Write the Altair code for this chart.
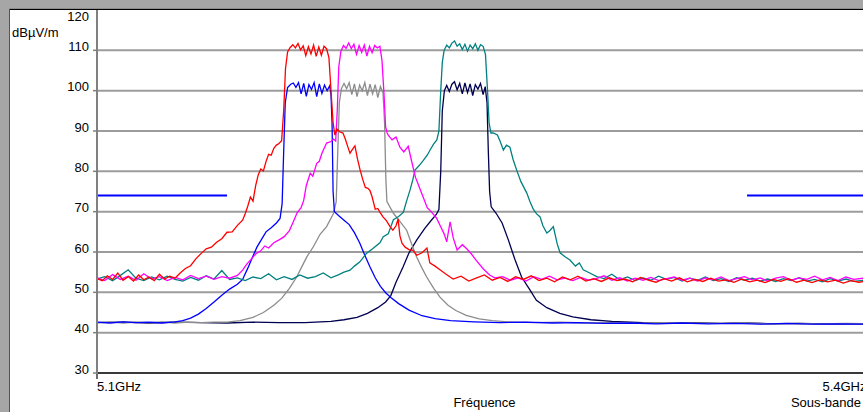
import altair as alt
import pandas as pd

# ---------------- data (frequency in MHz, level in dBµV/m) ----------------
red = [
    (5100, 53.4), (5102, 52.9), (5104, 54.1), (5106, 53.2), (5108, 54.8), (5110, 53.0), (5112, 53.9),
    (5114, 52.8), (5116, 54.3), (5118, 53.1), (5120, 53.8), (5122, 52.9), (5124, 54.5), (5126, 53.3),
    (5128, 54.0), (5130, 53.5), (5132, 54.8), (5134, 55.9), (5136, 56.6), (5138, 58.3), (5140, 59.6),
    (5142, 60.8), (5144, 61.2), (5146, 62.4), (5148, 63.3), (5150, 64.9), (5152, 65.0), (5154, 66.6),
    (5156, 67.9), (5157, 69.5), (5158, 71.4), (5159, 73.6), (5160, 72.6), (5161, 76.4), (5162, 79.1),
    (5163, 80.6), (5164, 80.1), (5165, 82.4), (5166, 84.2), (5167, 84.0), (5168, 85.7), (5169, 86.5),
    (5170, 86.9), (5171, 87.6), (5171.8, 95.0), (5172.5, 105.5), (5173.3, 109.6), (5174.3, 110.7),
    (5175.3, 111.4), (5176.3, 110.6), (5177.3, 111.7), (5178.3, 110.1), (5179.3, 111.1), (5180.3, 108.7),
    (5181.3, 110.9), (5182.3, 109.1), (5183.3, 111.3), (5184.3, 108.5), (5185.3, 110.8), (5186.3, 108.8),
    (5187.3, 111.0), (5188.3, 110.4), (5189.2, 108.2), (5190.0, 100.0), (5190.8, 92.0), (5191.5, 89.0),
    (5192.3, 90.5), (5193.3, 89.8), (5194.6, 89.5), (5195.5, 88.0), (5196.5, 86.0), (5197.3, 84.5),
    (5198.3, 85.5), (5199.2, 86.3), (5200.2, 83.0), (5201.2, 80.3), (5202.2, 78.0), (5203.2, 76.0),
    (5204.2, 75.8), (5205, 75.2), (5205.8, 73.7), (5207, 70.6), (5208, 70.8), (5208.8, 69.9), (5210, 68.7),
    (5211.3, 67.8), (5212.7, 66.3), (5213.8, 65.4), (5215, 66.5), (5215.8, 68.2), (5216.5, 64.0),
    (5217.3, 62.2), (5218.5, 61.2), (5220, 60.6), (5221.5, 60.4), (5223, 59.2), (5225, 59.8),
    (5226.9, 61.0), (5228, 57.3), (5230, 56.5), (5231.9, 55.6), (5234, 54.6), (5235.8, 53.8),
    (5237, 53.3), (5240, 54.0), (5243, 52.8), (5246, 53.6), (5249, 54.3), (5252, 53.0), (5255, 53.7),
    (5258, 52.7), (5261, 53.9), (5264, 53.2), (5267, 54.1), (5270, 52.9), (5273, 53.5), (5276, 52.6),
    (5279, 53.8), (5282, 53.1), (5285, 54.0), (5288, 52.8), (5291, 53.4), (5294, 52.7), (5297, 53.6),
    (5300, 52.9), (5303, 53.3), (5306, 52.6), (5309, 53.7), (5312, 53.0), (5315, 52.5), (5318, 53.4),
    (5321, 52.8), (5324, 53.6), (5327, 52.6), (5330, 53.2), (5333, 52.7), (5336, 53.5), (5339, 52.8),
    (5342, 53.1), (5345, 52.5), (5348, 53.3), (5351, 52.6), (5354, 53.0), (5357, 52.4), (5360, 53.2),
    (5363, 52.7), (5366, 53.4), (5369, 52.5), (5372, 53.0), (5375, 52.4), (5378, 53.1), (5381, 52.6),
    (5384, 53.0), (5387, 52.3), (5390, 52.9), (5393, 52.5), (5396, 52.8),
]

blue = [
    (5100, 42.6), (5105, 42.4), (5110, 42.7), (5115, 42.5), (5120, 42.6), (5125, 42.4), (5130, 42.7),
    (5133, 43.0), (5136, 43.6), (5139, 44.6), (5142, 46.0), (5145, 47.6), (5148, 49.3), (5151, 50.8),
    (5154, 52.0), (5156, 53.2), (5158, 56.0), (5160, 59.0), (5161.5, 61.2), (5163, 62.8), (5165, 65.0),
    (5167, 66.0), (5169, 67.2), (5170.4, 68.3), (5171.2, 72.0), (5171.8, 85.0), (5172.4, 97.0),
    (5173.3, 100.8), (5174.5, 101.6), (5175.5, 101.9), (5176.5, 100.8), (5177.5, 102.0), (5178.5, 99.2),
    (5179.5, 101.8), (5180.5, 98.6), (5181.5, 101.5), (5182.5, 100.3), (5183.5, 102.0), (5184.5, 98.5),
    (5185.5, 101.7), (5186.5, 99.3), (5187.5, 101.4), (5188.5, 100.0), (5189.5, 101.2), (5190.0, 99.0),
    (5190.4, 92.0), (5190.8, 75.0), (5191.3, 70.0), (5193, 69.0), (5195, 67.9), (5197, 66.8),
    (5199, 64.8), (5201, 62.3), (5203, 59.2), (5205, 56.3), (5207, 53.6), (5209, 51.5), (5211, 49.9),
    (5213, 48.7), (5216, 47.2), (5220, 45.6), (5225, 44.2), (5230, 43.5), (5236, 43.0), (5245, 42.7),
    (5255, 42.5), (5265, 42.6), (5275, 42.4), (5285, 42.5), (5295, 42.3), (5305, 42.4), (5315, 42.2),
    (5325, 42.4), (5335, 42.2), (5345, 42.3), (5355, 42.1), (5365, 42.3), (5375, 42.1), (5385, 42.2),
    (5396, 42.1),
]

magenta = [
    (5100, 53.6), (5103, 52.9), (5106, 54.4), (5109, 53.2), (5112, 54.0), (5115, 53.0), (5118, 54.6),
    (5121, 53.3), (5124, 53.9), (5127, 52.9), (5130, 53.7), (5133, 53.1), (5136, 54.2), (5139, 53.4),
    (5142, 54.0), (5145, 53.2), (5148, 53.9), (5151, 53.5), (5154, 54.2), (5156, 55.5), (5157.6, 57.0),
    (5159, 58.0), (5161, 59.5), (5163, 60.3), (5164.5, 61.5), (5166, 61.0), (5168, 62.3), (5170, 63.0),
    (5172, 63.8), (5174, 65.3), (5175.5, 67.5), (5177, 69.8), (5178.5, 71.0), (5179.5, 72.8),
    (5180.5, 76.5), (5182, 79.5), (5183, 78.8), (5184.5, 82.0), (5185.5, 82.5), (5186.5, 84.5),
    (5188.3, 87.0), (5190, 87.4), (5191, 88.0), (5191.8, 87.5), (5192.4, 95.0), (5193, 106.0),
    (5193.8, 109.8), (5194.8, 111.2), (5195.8, 110.5), (5196.8, 111.8), (5197.8, 110.4), (5198.8, 111.5),
    (5199.8, 109.0), (5200.8, 111.2), (5201.8, 109.5), (5202.8, 111.3), (5203.8, 108.6), (5204.8, 111.0),
    (5205.8, 109.4), (5206.8, 111.2), (5207.8, 110.6), (5208.8, 111.0), (5209.6, 107.5), (5210.4, 99.0),
    (5211, 91.0), (5211.6, 89.5), (5212, 89.0), (5213.5, 87.8), (5215, 88.5), (5216.5, 86.0),
    (5218, 84.8), (5219.7, 86.2), (5221, 82.5), (5222.5, 78.5), (5224, 76.0), (5225.5, 73.5),
    (5227, 71.0), (5228.5, 70.0), (5230.5, 68.5), (5232, 66.5), (5233.5, 64.5), (5234.5, 62.5),
    (5235.8, 67.5), (5237, 63.5), (5238.5, 60.5), (5240.5, 61.8), (5242.2, 60.8), (5244, 59.5),
    (5246, 57.8), (5248.6, 55.8), (5251, 54.3), (5253, 53.6), (5256, 53.9), (5259, 53.0), (5262, 53.6),
    (5265, 52.8), (5268, 53.9), (5271, 53.2), (5274, 54.0), (5277, 53.1), (5280, 53.5), (5283, 52.9),
    (5286, 53.7), (5289, 53.0), (5292, 53.4), (5295, 54.1), (5298, 53.0), (5301, 53.6), (5304, 52.8),
    (5307, 53.5), (5310, 53.0), (5313, 53.7), (5316, 52.9), (5319, 53.4), (5322, 53.8), (5325, 53.0),
    (5328, 53.5), (5331, 52.8), (5334, 53.6), (5337, 53.1), (5340, 53.8), (5343, 52.9), (5346, 53.4),
    (5349, 53.9), (5352, 53.1), (5355, 53.6), (5358, 52.8), (5361, 53.5), (5364, 53.9), (5367, 53.0),
    (5370, 53.6), (5373, 53.2), (5376, 54.0), (5379, 53.1), (5382, 53.7), (5385, 52.9), (5388, 53.8),
    (5391, 53.2), (5396, 53.6),
]

gray = [
    (5100, 42.5), (5105, 42.7), (5110, 42.4), (5115, 42.6), (5120, 42.5), (5125, 42.7), (5130, 42.4),
    (5135, 42.6), (5140, 42.5), (5145, 42.6), (5150, 42.6), (5155, 43.0), (5160, 43.8), (5164, 45.0),
    (5168, 46.8), (5171, 48.5), (5174, 51.0), (5176.8, 53.8), (5178.5, 56.0), (5180.7, 58.8),
    (5183.2, 61.3), (5185.8, 64.4), (5188.3, 66.3), (5190.9, 69.5), (5192, 72.5), (5192.6, 85.0),
    (5193.2, 97.0), (5194, 100.5), (5195, 101.8), (5196, 100.5), (5197, 102.0), (5198, 99.0),
    (5199, 101.7), (5200, 98.5), (5201, 101.4), (5202, 100.0), (5203, 102.0), (5204, 98.8),
    (5205, 101.6), (5206, 99.2), (5207, 101.5), (5208, 98.3), (5209, 101.0), (5210, 99.5),
    (5210.6, 92.0), (5211.1, 78.0), (5211.5, 72.5), (5214, 69.6), (5216.5, 67.6), (5219.1, 65.4),
    (5221, 62.0), (5222.9, 58.8), (5225, 56.0), (5226.8, 53.8), (5229.5, 51.0), (5231.9, 48.8),
    (5235, 46.8), (5238, 45.5), (5242, 44.3), (5247, 43.4), (5252, 43.0), (5258, 42.7), (5268, 42.5),
    (5278, 42.6), (5288, 42.4), (5298, 42.5), (5308, 42.3), (5318, 42.5), (5328, 42.4), (5338, 42.3),
    (5348, 42.4), (5358, 42.2), (5368, 42.3), (5378, 42.2), (5388, 42.3), (5396, 42.2),
]

teal = [
    (5100, 53.3), (5103, 53.9), (5106, 52.9), (5109, 54.2), (5112, 55.6), (5115, 53.5), (5118, 52.9),
    (5121, 53.8), (5124, 53.1), (5127, 54.0), (5130, 53.2), (5133, 52.8), (5136, 53.7), (5139, 53.0),
    (5142, 54.1), (5145, 53.3), (5148, 55.4), (5151, 53.2), (5154, 53.6), (5157, 52.9), (5160, 53.8),
    (5163, 53.4), (5166, 54.6), (5169, 53.1), (5172, 53.9), (5175, 53.2), (5178, 54.3), (5181, 53.5),
    (5184, 53.9), (5187, 54.8), (5190, 53.6), (5193, 54.4), (5195, 55.0), (5197.3, 55.5), (5199, 56.5),
    (5201, 57.5), (5203.7, 59.7), (5206, 60.8), (5208.8, 62.3), (5210.1, 63.8), (5212, 64.5),
    (5214, 68.0), (5216, 68.8), (5217.8, 69.8), (5219, 72.5), (5220.4, 75.4), (5221.5, 78.0),
    (5222.3, 80.3), (5224, 81.5), (5225.5, 82.7), (5227, 84.0), (5228.1, 85.3), (5229.5, 86.8),
    (5230.7, 87.8), (5231.5, 90.0), (5232.2, 100.0), (5232.8, 107.0), (5233.5, 110.0), (5234.5, 111.3),
    (5235.5, 110.6), (5236.5, 111.8), (5237.5, 112.3), (5238.5, 111.0), (5239.5, 111.6), (5240.5, 110.2),
    (5241.5, 111.5), (5242.5, 109.8), (5243.5, 111.3), (5244.5, 110.4), (5245.5, 111.6), (5246.5, 110.0),
    (5247.5, 111.4), (5248.5, 111.0), (5249.4, 109.0), (5250.2, 100.0), (5250.8, 92.0), (5251.5, 89.5),
    (5252.4, 89.5), (5254, 89.0), (5255, 87.5), (5256.3, 85.3), (5257.5, 86.5), (5258.8, 86.0),
    (5260, 83.0), (5261.4, 80.3), (5263, 77.5), (5265.3, 74.6), (5266.5, 72.5), (5267.8, 70.6),
    (5269, 69.5), (5270.4, 68.7), (5271.5, 66.5), (5273, 64.7), (5274, 65.2), (5275.5, 66.3),
    (5277, 62.0), (5278.1, 59.8), (5280, 58.8), (5281.9, 58.0), (5284, 56.5), (5285.5, 57.3),
    (5287, 55.6), (5289.5, 54.8), (5292.2, 53.9), (5295, 53.4), (5298, 54.5), (5301, 53.1), (5304, 53.8),
    (5307, 52.9), (5310, 53.6), (5313, 53.0), (5316, 54.0), (5319, 53.2), (5322, 53.7), (5325, 52.8),
    (5328, 53.5), (5331, 53.0), (5334, 53.8), (5337, 52.9), (5340, 53.4), (5343, 52.7), (5346, 53.6),
    (5349, 53.0), (5352, 53.5), (5355, 52.8), (5358, 53.3), (5361, 52.7), (5364, 53.4), (5367, 52.9),
    (5370, 53.6), (5373, 52.8), (5376, 53.2), (5379, 52.6), (5382, 53.4), (5385, 52.8), (5388, 53.3),
    (5391, 52.7), (5396, 53.1),
]

navy = [
    (5100, 42.5), (5110, 42.6), (5120, 42.4), (5130, 42.6), (5140, 42.5), (5150, 42.4), (5160, 42.6),
    (5170, 42.5), (5180, 42.5), (5190, 42.8), (5195, 43.2), (5200, 43.8), (5204, 44.8), (5208, 46.2),
    (5211, 47.6), (5213, 49.2), (5215, 52.5), (5217.7, 56.3), (5220, 59.8), (5223, 63.0), (5226, 65.8),
    (5228.5, 67.8), (5230.5, 69.3), (5231.5, 70.5), (5232.2, 80.0), (5232.8, 95.0), (5233.6, 100.0),
    (5234.5, 101.3), (5235.5, 99.8), (5236.5, 101.6), (5237.5, 102.2), (5238.5, 100.2), (5239.5, 101.8),
    (5240.5, 99.2), (5241.5, 101.9), (5242.5, 99.5), (5243.5, 101.7), (5244.5, 98.8), (5245.5, 101.5),
    (5246.5, 100.4), (5247.5, 101.8), (5248.5, 99.0), (5249.3, 101.0), (5250, 97.0), (5250.5, 85.0),
    (5251, 75.0), (5251.6, 71.2), (5253.5, 69.6), (5255.8, 67.2), (5258.2, 63.0), (5260.8, 58.0),
    (5263.3, 53.8), (5266.5, 50.6), (5269, 48.0), (5273, 46.2), (5278, 44.8), (5283, 43.9), (5290, 43.2),
    (5298, 42.8), (5310, 42.5), (5320, 42.4), (5330, 42.5), (5340, 42.3), (5350, 42.4), (5360, 42.2),
    (5370, 42.3), (5380, 42.2), (5396, 42.2),
]

limit_left = [(5100, 74), (5150, 74)]
limit_right = [(5350, 74), (5400, 74)]

grid_levels = [40, 50, 60, 70, 80, 90, 100, 110]
tick_levels = [30, 40, 50, 60, 70, 80, 90, 100, 110]
y_label_values = [30, 40, 50, 60, 70, 80, 90, 100, 110]
y_top_label = [120]
x_tick_values = [5100]
unit_label = "dBµV/m"
x_label_left = "5.1GHz"
x_label_right = "5.4GHz"
x_title = "Fréquence"
x_note = "Sous-bande"

# ---------------- chart ----------------
FONT = "Liberation Sans"
W, H = 766, 363
xs = alt.Scale(domain=[5100, 5394.6], nice=False, zero=False)
ys = alt.Scale(domain=[30, 120], nice=False, zero=False)


def trace(points, color, width=1.3):
    df = pd.DataFrame(points, columns=["mhz", "db"])
    df["i"] = range(len(df))
    return alt.Chart(df).mark_line(color=color, strokeWidth=width, clip=True).encode(
        x=alt.X("mhz:Q", scale=xs, axis=None),
        y=alt.Y("db:Q", scale=ys, axis=None),
        order="i:Q",
    )


one = alt.Data(values=[{"k": 1}])


def box(x, x2, y, y2, color):
    return alt.Chart(one).mark_rect(color=color).encode(
        x=alt.value(x), x2=alt.value(x2), y=alt.value(y), y2=alt.value(y2)
    )


def label(text, x, y, align, size=13):
    return alt.Chart(alt.Data(values=[{"t": text}])).mark_text(
        align=align, baseline="middle", font=FONT, fontSize=size, color="black"
    ).encode(x=alt.value(x), y=alt.value(y), text="t:N")


grid = alt.Chart(pd.DataFrame({"g": grid_levels})).mark_rule(color="#9c9c9c", strokeWidth=2).encode(
    y=alt.Y("g:Q", scale=ys, axis=None)
)

# y axis line and ticks
y_domain = alt.Chart(one).mark_rule(color="#808080", strokeWidth=2).encode(
    x=alt.value(0), y=alt.value(0), y2=alt.value(H + 1)
)
y_ticks = alt.Chart(pd.DataFrame({"v": tick_levels})).mark_rule(color="#808080", strokeWidth=1.5).encode(
    x=alt.value(-4), x2=alt.value(0), y=alt.Y("v:Q", scale=ys, axis=None)
)
# x axis line and tick
x_domain = alt.Chart(one).mark_rule(color="#3a3a3a", strokeWidth=2).encode(
    x=alt.value(-1), x2=alt.value(W), y=alt.value(H)
)
x_ticks = alt.Chart(pd.DataFrame({"f": x_tick_values})).mark_rule(color="#3a3a3a", strokeWidth=1.5).encode(
    x=alt.X("f:Q", scale=xs, axis=None), y=alt.value(H), y2=alt.value(H + 6)
)

ylab = alt.Chart(pd.DataFrame({"v": y_label_values})).mark_text(
    align="right", baseline="middle", font=FONT, fontSize=13, color="black", dy=-3.5
).encode(x=alt.value(-8), y=alt.Y("v:Q", scale=ys, axis=None), text="v:Q")

ytop = alt.Chart(pd.DataFrame({"v": y_top_label})).mark_text(
    align="right", baseline="middle", font=FONT, fontSize=13, color="black", dy=6.5
).encode(x=alt.value(-8), y=alt.Y("v:Q", scale=ys, axis=None), text="v:Q")

layers = [
    grid,
    x_domain,
    x_ticks,
    y_ticks,
    trace(limit_left, "#0000ff", 2),
    trace(limit_right, "#0000ff", 2),
    trace(navy, "#000050"),
    trace(gray, "#8c8c8c"),
    trace(blue, "#0000ff"),
    trace(teal, "#008080"),
    trace(magenta, "#ff00ff"),
    trace(red, "#ff0000"),
    y_domain,
    ylab,
    ytop,
    label(unit_label, -85, 23, "left"),
    label(x_label_left, 0, 377, "left"),
    label(x_label_right, 769.5, 377, "right"),
    label(x_title, 387.5, 393, "center"),
    label(x_note, 764, 393, "right"),
    box(-97, -88, -10, 402, "#a6a6a6"),
    box(-97, W, -10, -1.3, "#a6a6a6"),
    box(-88, W, -1.3, 0, "#000000"),
    box(-88, -87, -1, 402, "#555555"),
]

chart = alt.layer(*layers).properties(
    width=W, height=H, autosize="none",
    padding={"left": 97, "top": 10, "right": 0, "bottom": 39},
    background="white",
).configure_view(stroke=None)

chart.save("out.html", embed_options={"renderer": "svg", "actions": False})
